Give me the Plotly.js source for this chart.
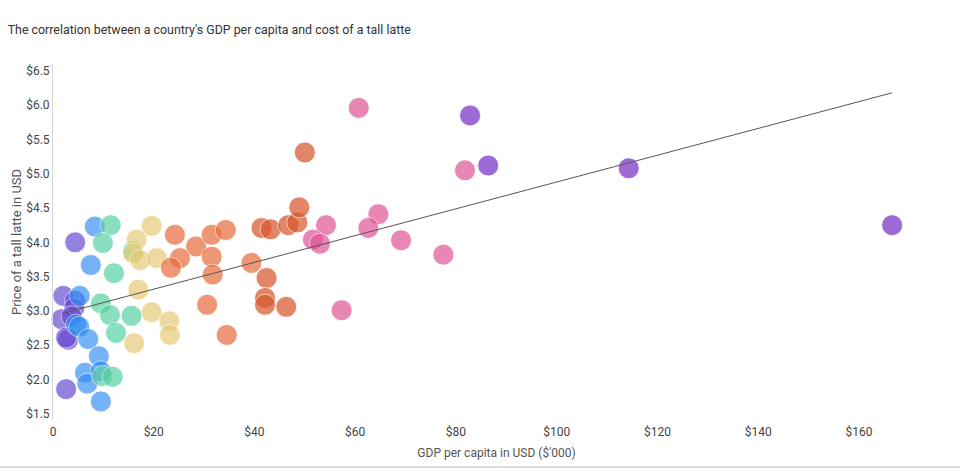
<!DOCTYPE html>
<html>
<head>
<meta charset="utf-8">
<script src="https://cdn.plot.ly/plotly-3.0.1.min.js"></script>
<style>
  html, body { margin: 0; padding: 0; background: #fff; }
  #chart { width: 960px; height: 472px; }
</style>
</head>
<body>
<div id="chart"></div>
<script>
// GDP per capita ($'000) and tall latte price (USD), grouped by colour band
const violetX = [4.4, 2.05, 4.4, 4.2, 1.7, 3.7, 3.0, 2.6, 2.6];
const violetY = [4.00, 3.22, 3.15, 3.04, 2.88, 2.92, 2.58, 2.61, 1.86];

const blueX = [8.3, 7.5, 5.3, 4.6, 5.2, 7.0, 9.1, 6.35, 6.8, 9.5, 9.5];
const blueY = [4.23, 3.67, 3.22, 2.80, 2.77, 2.59, 2.34, 2.10, 1.94, 2.12, 1.68];

const greenX = [11.45, 9.9, 12.1, 15.9, 9.5, 11.3, 15.6, 12.5, 9.8, 11.85];
const greenY = [4.25, 3.99, 3.55, 3.87, 3.11, 2.94, 2.93, 2.68, 2.05, 2.04];

const yellowX = [19.6, 16.6, 15.95, 17.3, 20.6, 16.95, 19.6, 23.1, 23.2, 16.1];
const yellowY = [4.24, 4.04, 3.84, 3.74, 3.77, 3.31, 2.98, 2.85, 2.65, 2.53];

const orangeX = [24.2, 28.4, 25.2, 23.4, 31.5, 34.3, 31.5, 31.7, 30.6, 34.5, 39.4];
const orangeY = [4.11, 3.94, 3.77, 3.63, 4.11, 4.18, 3.79, 3.53, 3.09, 2.65, 3.70];

const redX = [42.4, 42.1, 42.1, 46.3, 41.4, 43.2, 46.7, 48.5, 48.9, 50.0];
const redY = [3.48, 3.19, 3.09, 3.06, 4.21, 4.19, 4.25, 4.29, 4.51, 5.31];

const pinkX = [54.2, 51.6, 53.0, 57.3, 60.7, 64.6, 62.6, 69.1, 77.5, 81.8];
const pinkY = [4.25, 4.04, 3.98, 3.01, 5.96, 4.41, 4.21, 4.03, 3.82, 5.05];

const purpleX = [82.8, 86.4, 114.3, 166.6];
const purpleY = [5.85, 5.12, 5.08, 4.25];

// Trend line end points
const trendX = [1.7, 166.6];
const trendY = [2.96, 6.18];

// Axis ticks
const xTickVals = [0, 20, 40, 60, 80, 100, 120, 140, 160];
const xTickText = ["0", "$20", "$40", "$60", "$80", "$100", "$120", "$140", "$160"];
const yTickVals = [1.5, 2.0, 2.5, 3.0, 3.5, 4.0, 4.5, 5.0, 5.5, 6.0, 6.5];
const yTickText = ["$1.5", "$2.0", "$2.5", "$3.0", "$3.5", "$4.0", "$4.5", "$5.0", "$5.5", "$6.0", "$6.5"];

const groups = [
  {x: violetX, y: violetY, c: "rgb(100,72,209)", o: 0.68},
  {x: blueX,   y: blueY,   c: "rgb(45,140,243)", o: 0.66},
  {x: greenX,  y: greenY,  c: "rgb(84,208,160)", o: 0.68},
  {x: yellowX, y: yellowY, c: "rgb(232,203,120)", o: 0.7},
  {x: orangeX, y: orangeY, c: "rgb(232,108,61)", o: 0.7},
  {x: redX,    y: redY,    c: "rgb(216,88,45)", o: 0.72},
  {x: pinkX,   y: pinkY,   c: "rgb(223,84,149)", o: 0.7},
  {x: purpleX, y: purpleY, c: "rgb(135,70,205)", o: 0.8}
];

const font = "Roboto, 'Open Sans', Arial, sans-serif";

const traces = groups.map(g => ({
  type: "scatter",
  mode: "markers",
  x: g.x,
  y: g.y,
  cliponaxis: false,
  hoverinfo: "x+y",
  marker: {
    size: 21,
    color: g.c,
    opacity: g.o,
    line: {color: "rgba(255,255,255,0.8)", width: 1}
  }
}));

traces.push({
  type: "scatter",
  mode: "lines",
  x: trendX,
  y: trendY,
  line: {color: "#555555", width: 1},
  hoverinfo: "skip"
});

const layout = {
  width: 960,
  height: 472,
  paper_bgcolor: "#ffffff",
  plot_bgcolor: "#ffffff",
  showlegend: false,
  font: {family: font, color: "#444", size: 12},
  margin: {l: 53, r: 20, t: 64, b: 52},
  title: {
    text: "The correlation between a country's GDP per capita and cost of a tall latte",
    font: {family: font, size: 12.4, color: "#333"},
    x: 0.008, xref: "container", xanchor: "left",
    y: 0.937, yref: "container", yanchor: "middle"
  },
  xaxis: {
    range: [0, 176.1],
    tickvals: xTickVals,
    ticktext: xTickText,
    showgrid: false,
    zeroline: false,
    showline: false,
    ticks: "",
    ticklen: 0,
    ticklabelstandoff: 3,
    tickfont: {size: 12, color: "#444"},
    title: {text: "GDP per capita in USD ($'000)", font: {size: 12, color: "#555"}, standoff: 10}
  },
  yaxis: {
    range: [1.41, 6.6],
    tickvals: yTickVals,
    ticktext: yTickText,
    showgrid: false,
    zeroline: false,
    showline: true,
    linecolor: "#d6d6d6",
    linewidth: 1,
    ticks: "",
    tickfont: {size: 12, color: "#444"},
    title: {text: "Price of a tall latte in USD", font: {size: 13, color: "#555"}, standoff: 1}
  },
  shapes: [{
    type: "line",
    xref: "paper", yref: "paper",
    x0: -53 / 887, x1: 1 + 20 / 887,
    y0: -(467 - 420) / 356, y1: -(467 - 420) / 356,
    line: {color: "#dddddd", width: 2}
  }]
};

Plotly.newPlot("chart", traces, layout, {displayModeBar: false, staticPlot: true});
</script>
</body>
</html>
